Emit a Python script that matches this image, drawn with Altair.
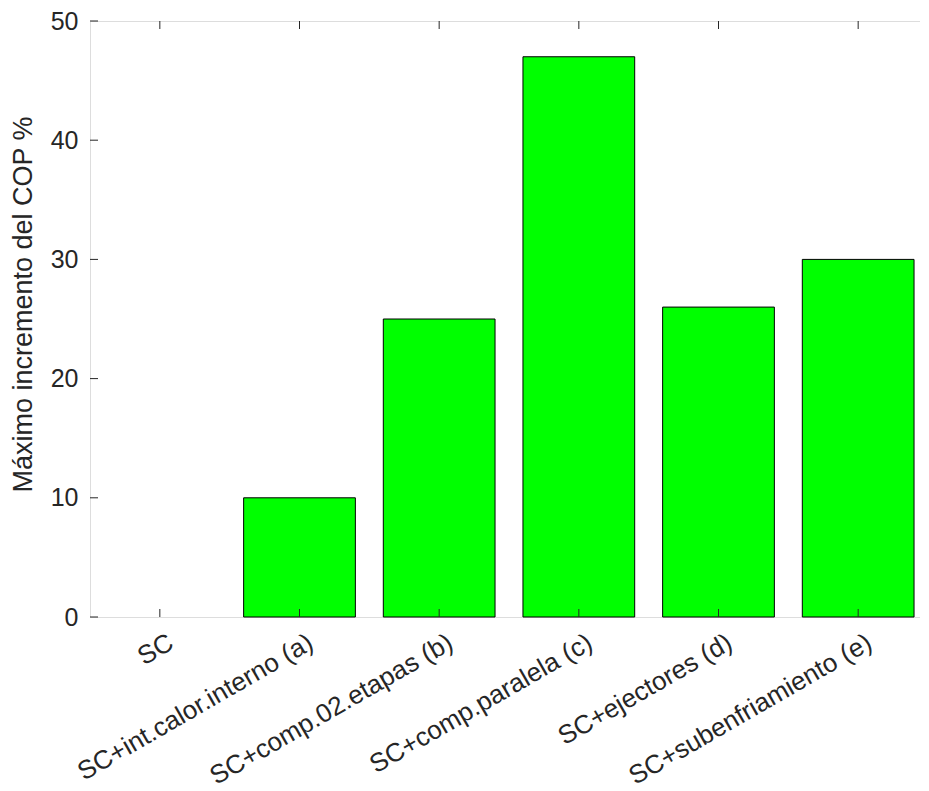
import altair as alt
import pandas as pd

categories = [
    "SC",
    "SC+int.calor.interno (a)",
    "SC+comp.02.etapas (b)",
    "SC+comp.paralela (c)",
    "SC+ejectores (d)",
    "SC+subenfriamiento (e)",
]
values = [0, 10, 25, 47, 26, 30]
y_ticks = [0, 10, 20, 30, 40, 50]

W, H = 838, 596
TICK = 8
FONT = "Liberation Sans"
INK = "#262626"

df = pd.DataFrame({"cat": categories, "value": values})
dft = pd.DataFrame({"value": y_ticks})

x_enc = alt.X(
    "cat:N",
    sort=categories,
    scale=alt.Scale(paddingInner=0.2, paddingOuter=0.1),
    axis=alt.Axis(
        title=None, labelAngle=330, labelAlign="right", labelBaseline="top",
        labelFontSize=26, labelPadding=12, labelOffset=5, tickSize=0,
        domain=False, grid=False, labelFont=FONT, labelColor=INK,
        labelLimit=0,
    ),
)
y_enc = alt.Y(
    "value:Q",
    scale=alt.Scale(domain=[0, 50], nice=False, zero=True),
    axis=alt.Axis(
        title="Máximo incremento del COP %", values=y_ticks, tickSize=0,
        domain=False, grid=False, labelFontSize=25, labelPadding=12,
        labelFont=FONT, labelColor=INK, labelBaseline="middle",
        titleFont=FONT, titleFontSize=27, titleFontWeight="normal",
        titleColor=INK, titleX=-67, titleY=283, titleAngle=270,
        titleBaseline="middle", titleAlign="center",
    ),
)

bars = alt.Chart(df).mark_bar(color="#00ff00", stroke="black", strokeWidth=1).encode(
    x=x_enc,
    y=y_enc,
    strokeOpacity=alt.condition("datum.value > 0", alt.value(1), alt.value(0)),
)

rule_style = dict(color=INK, strokeWidth=1)

yt_left = alt.Chart(dft).mark_rule(**rule_style).encode(
    y=y_enc, x=alt.value(0), x2=alt.value(TICK)
)
yt_right = alt.Chart(dft).mark_rule(**rule_style).encode(
    y=y_enc, x=alt.value(W - TICK), x2=alt.value(W)
)
xt_bottom = alt.Chart(df).mark_rule(**rule_style).encode(
    x=x_enc, y=alt.value(H), y2=alt.value(H - TICK)
)
xt_top = alt.Chart(df).mark_rule(**rule_style).encode(
    x=x_enc, y=alt.value(0), y2=alt.value(TICK)
)

chart = (
    alt.layer(bars, yt_left, yt_right, xt_bottom, xt_top)
    .properties(
        width=W, height=H,
        autosize=alt.AutoSizeParams(type="none"),
        padding={"left": 82, "top": 13, "right": -8, "bottom": 170},
    )
    .configure_view(stroke=INK, strokeWidth=1)
    .configure(background="white")
)

chart.save("out.html", embed_options={"renderer": "svg", "actions": False})
